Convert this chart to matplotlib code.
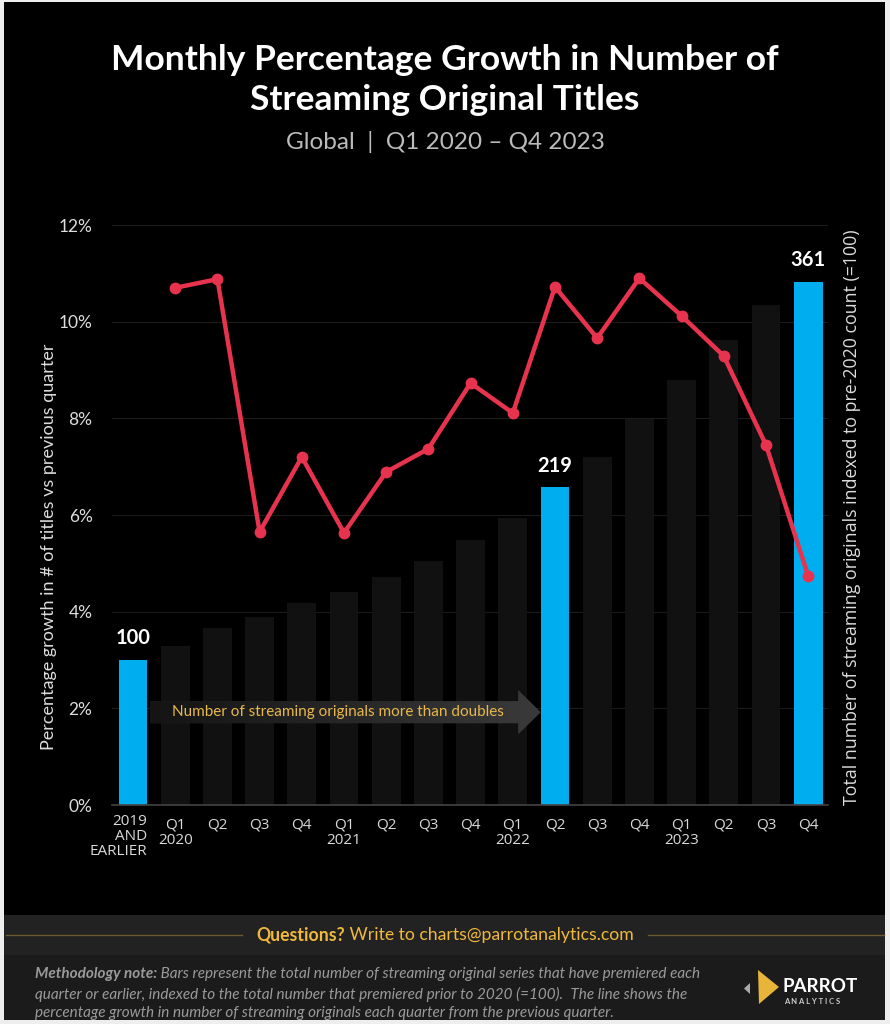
import matplotlib.pyplot as plt
import numpy as np
from matplotlib.patches import Rectangle, FancyArrow, Polygon
from matplotlib.colors import LinearSegmentedColormap

# data
quarters = ["2019\nAND\nEARLIER", "Q1\n2020", "Q2", "Q3", "Q4", "Q1\n2021", "Q2", "Q3", "Q4",
            "Q1\n2022", "Q2", "Q3", "Q4", "Q1\n2023", "Q2", "Q3", "Q4"]
index_vals = [100, 110, 122, 130, 139, 147, 157, 168, 183, 198, 219, 240, 266, 293, 321, 345, 361]
growth_vals = [10.70, 10.88, 5.65, 7.20, 5.63, 6.89, 7.37, 8.73, 8.11,
               10.72, 9.66, 10.90, 10.12, 9.29, 7.45, 4.74]
highlight = [0, 10, 16]
pct_ticks = [0, 2, 4, 6, 8, 10, 12]

W, H = 890, 1024
BLUE = "#00aeef"
RED = "#e8334f"
GOLD = "#f0b93c"


def fx(x):
    return x / W


def fy(y):
    return 1 - y / H


fig = plt.figure(figsize=(W / 100, H / 100), dpi=100, facecolor="#eeeeee")

# black panel and footer bands
fig.patches.append(Rectangle((fx(4), fy(1020)), fx(881), 1018 / H, transform=fig.transFigure,
                             facecolor="black", edgecolor="none", zorder=-10))
fig.patches.append(Rectangle((fx(4), fy(955)), fx(881), 40 / H, transform=fig.transFigure,
                             facecolor="#222222", edgecolor="none", zorder=-9))
fig.patches.append(Rectangle((fx(4), fy(1020)), fx(881), 65 / H, transform=fig.transFigure,
                             facecolor="#1b1b1b", edgecolor="none", zorder=-9))

# main axes: left = % growth (line), right = index (bars)
ax2 = fig.add_axes([fx(112), fy(805), fx(716), 580 / H])
ax = ax2.twinx()
ax.yaxis.tick_left()
ax.yaxis.set_label_position("left")
ax2.yaxis.tick_right()
ax2.yaxis.set_label_position("right")

x = np.arange(len(quarters))
colors = [BLUE if i in highlight else "#111111" for i in x]
ax2.bar(x, index_vals, width=0.68, color=colors, zorder=2)
for i in highlight:
    ax2.text(x[i], index_vals[i] + 8, str(index_vals[i]), ha="center", va="bottom",
             color="white", fontsize=14.5, fontweight="bold", family="Lato")

ax.plot(x[1:], growth_vals, color=RED, lw=3.2, marker="o", markersize=7.5, zorder=5,
        solid_joinstyle="round")

ax.set_xlim(-0.498, 16.47)
ax.set_ylim(0, 12)
ax2.set_ylim(0, 400)
ax.set_yticks(pct_ticks)
ax.set_yticklabels([f"{t}%" for t in pct_ticks])

# grid drawn on the bar axes so it stays behind the bars
ax2.set_yticks(np.array(pct_ticks) * 400 / 12)
ax2.set_yticklabels([])
ax2.grid(axis="y", color="#1c1c1c", lw=0.8, zorder=0)
ax2.set_axisbelow(True)
ax2.set_xticks(x)
# the first label is right-aligned under its bar, drawn separately below
ax2.set_xticklabels([""] + quarters[1:], linespacing=1.0)
ax2.annotate(quarters[0], xy=(x[0], 0), xycoords=("data", "axes fraction"),
             xytext=(10.5, -6.5), textcoords="offset points", ha="right", va="top",
             multialignment="right", linespacing=1.0, color="#dadada", fontsize=11,
             family="Open Sans")

for a in (ax, ax2):
    a.set_facecolor("none")
    for s in a.spines.values():
        s.set_visible(False)
ax2.spines["bottom"].set_visible(True)
ax2.spines["bottom"].set_color("#444444")
ax2.spines["bottom"].set_linewidth(1.2)

ax.tick_params(axis="y", length=0, pad=14, labelcolor="#dddddd", labelsize=12.5)
for lab in ax.get_yticklabels():
    lab.set_family("Lato")
ax2.tick_params(axis="y", length=0)
ax2.tick_params(axis="x", length=0, pad=9, labelcolor="#dadada", labelsize=11)
for lab in ax2.get_xticklabels():
    lab.set_family("Open Sans")

ax.set_ylabel("Percentage growth in # of titles vs previous quarter", color="#dddddd",
              fontsize=13, family="Lato")
ax.yaxis.set_label_coords(-0.077, 0.445)
ax2.set_ylabel("Total number of streaming originals indexed to pre-2020 count (=100)",
               color="#dddddd", fontsize=12.8, family="Open Sans", rotation=90)
ax2.yaxis.set_label_coords(1.021, 0.496)

# annotation arrow with a dark gradient
arrow = FancyArrow(0.41, 1.92, 9.25, 0, width=0.455, head_width=0.91, head_length=0.53,
                   length_includes_head=True, facecolor="#2a2a2a", edgecolor="none", zorder=3)
ax.add_patch(arrow)
grad = np.linspace(0, 1, 256).reshape(1, -1)
cmap = LinearSegmentedColormap.from_list("g", ["#141414", "#3a3a3a"])
img = ax.imshow(grad, extent=[0.41, 9.66, 1.4, 2.45], aspect="auto", zorder=3.5, cmap=cmap)
img.set_clip_path(arrow)
ax.set_xlim(-0.498, 16.47)
ax.set_ylim(0, 12)
ax.text(4.85, 1.92, "Number of streaming originals more than doubles", ha="center", va="center",
        color="#e8b84a", fontsize=11, family="Lato", zorder=4)

# titles
fig.text(0.5, fy(60), "Monthly Percentage Growth in Number of", ha="center", va="center",
         color="white", fontsize=25.5, fontweight="bold", family="Lato")
fig.text(0.5, fy(100), "Streaming Original Titles", ha="center", va="center",
         color="white", fontsize=25.5, fontweight="bold", family="Lato")
fig.text(0.5, fy(142), "Global  |  Q1 2020 \u2013 Q4 2023", ha="center", va="center",
         color="#bbbbbb", fontsize=17.5, family="Lato")

# footer: questions row
renderer = fig.canvas.get_renderer()
q1 = fig.text(0, fy(935), "Questions?", ha="left", va="center", color=GOLD,
              fontsize=12.7, fontweight="bold", family="Lato")
q2 = fig.text(0, fy(935), " Write to charts@parrotanalytics.com", ha="left", va="center",
              color=GOLD, fontsize=12.7, family="Lato")
w1 = q1.get_window_extent(renderer).width
w2 = q2.get_window_extent(renderer).width
start = (W - w1 - w2) / 2
q1.set_x(fx(start))
q2.set_x(fx(start + w1))
fig.lines.append(plt.Line2D([fx(6), fx(start - 14)], [fy(935), fy(935)], transform=fig.transFigure,
                            color="#6b5a2e", lw=1))
fig.lines.append(plt.Line2D([fx(start + w1 + w2 + 14), fx(884)], [fy(935), fy(935)],
                            transform=fig.transFigure, color="#6b5a2e", lw=1))

# methodology note
m_bold = fig.text(fx(35), fy(974), "Methodology note:", ha="left", va="center", color="#9a9a9a",
                  fontsize=11, fontweight="bold", style="italic", family="Lato")
wb = m_bold.get_window_extent(renderer).width
fig.text(fx(35 + wb), fy(974), " Bars represent the total number of streaming original series that have premiered each",
         ha="left", va="center", color="#9a9a9a", fontsize=11, style="italic", family="Lato")
fig.text(fx(35), fy(994), "quarter or earlier, indexed to the total number that premiered prior to 2020 (=100).  The line shows the",
         ha="left", va="center", color="#9a9a9a", fontsize=11, style="italic", family="Lato")
fig.text(fx(35), fy(1013), "percentage growth in number of streaming originals each quarter from the previous quarter.",
         ha="left", va="center", color="#9a9a9a", fontsize=11, style="italic", family="Lato")

# logo
fig.patches.append(Polygon([(fx(758), fy(970)), (fx(759), fy(1004)), (fx(779), fy(987))],
                           transform=fig.transFigure, facecolor="#e9b43a", edgecolor="none"))
fig.patches.append(Polygon([(fx(750), fy(983)), (fx(750), fy(994)), (fx(744), fy(988.5))],
                           transform=fig.transFigure, facecolor="#aaaaaa", edgecolor="none"))
fig.text(fx(782), fy(987), "PARROT", ha="left", va="center", color="white", fontsize=13.5,
         fontweight="bold", family="Lato")
fig.text(fx(784), fy(1002), "A N A L Y T I C S", ha="left", va="center", color="#cccccc",
         fontsize=5.5, fontweight="bold", family="Lato")

fig.savefig("out.png", dpi=100, facecolor=fig.get_facecolor())
